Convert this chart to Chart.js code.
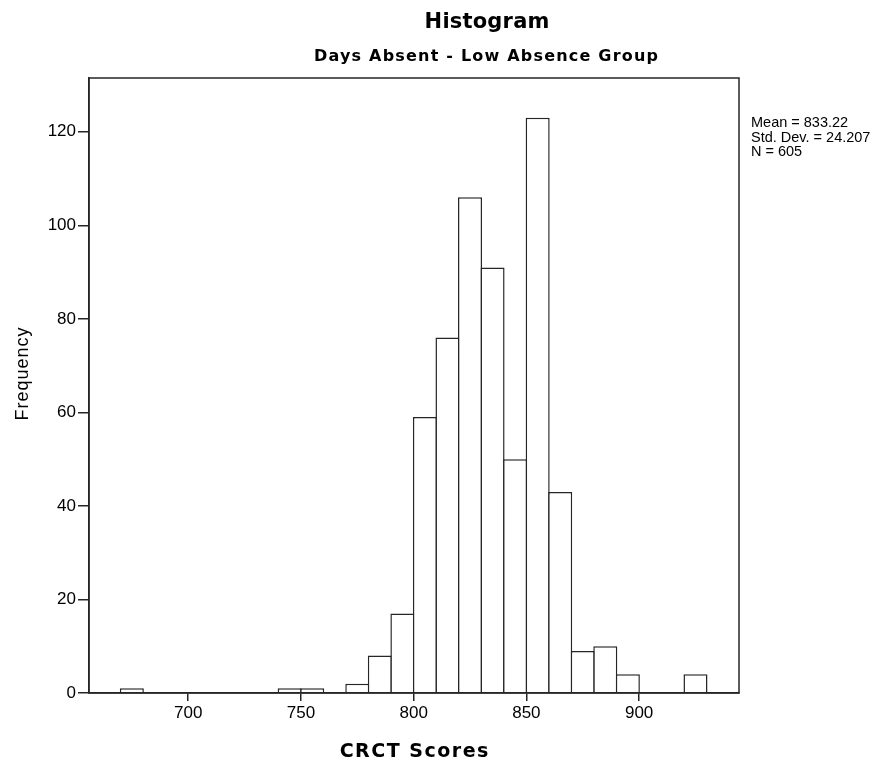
<!DOCTYPE html>
<html>
<head>
<meta charset="utf-8">
<script src="https://cdn.jsdelivr.net/npm/chart.js@4.4.1/dist/chart.umd.min.js"></script>
<style>
  html, body { margin: 0; padding: 0; background: #fff; }
  #wrap { width: 894px; height: 764px; position: relative; }
</style>
</head>
<body>
<div id="wrap"><canvas id="hist"></canvas></div>
<script>
// CRCT scores, 10-point bins (start of each bin) and how many students fall in it
const binStarts = [670, 740, 750, 770, 780, 790, 800, 810, 820, 830, 840, 850, 860, 870, 880, 890, 920];
const frequencies = [1, 1, 1, 2, 8, 17, 59, 76, 106, 91, 50, 123, 43, 9, 10, 4, 4];
const binWidth = 10;
const xTicks = [700, 750, 800, 850, 900];
const yTicks = [0, 20, 40, 60, 80, 100, 120];
const statLines = ["Mean = 833.22", "Std. Dev. = 24.207", "N = 605"];

const FONT = "'Liberation Sans', Arial, Helvetica, sans-serif";
const BOLD_FONT = "'DejaVu Sans', 'Liberation Sans', Arial, sans-serif";
const INK = "#262626";
const LINE = 1.5;

const points = binStarts.map((s, i) => ({ x: s + binWidth / 2, y: frequencies[i] }));

function spacedText(ctx, text, x, y, spacing) {
  ctx.letterSpacing = spacing + "px";
  ctx.fillText(text, x + spacing / 2, y);
  ctx.letterSpacing = "0px";
}

// frame, titles and the stats text to the right of the plot
const decorations = {
  id: "decorations",
  afterDraw(chart) {
    const { ctx, chartArea: a } = chart;
    ctx.save();
    ctx.strokeStyle = INK;
    ctx.lineWidth = LINE;
    ctx.strokeRect(a.left, a.top, a.right - a.left, a.bottom - a.top);

    ctx.fillStyle = "#000";
    ctx.textAlign = "center";
    ctx.textBaseline = "alphabetic";
    ctx.font = "bold 21px " + BOLD_FONT;
    spacedText(ctx, "Histogram", 487, 28, 0.2);
    ctx.font = "bold 16px " + BOLD_FONT;
    spacedText(ctx, "Days Absent - Low Absence Group", 486, 61, 1.2);

    ctx.font = "bold 19px " + BOLD_FONT;
    spacedText(ctx, "CRCT Scores", (a.left + a.right) / 2, 757, 1.5);

    ctx.save();
    ctx.translate(28, 374);
    ctx.rotate(-Math.PI / 2);
    ctx.font = "18px " + FONT;
    spacedText(ctx, "Frequency", 0, 0, 1);
    ctx.restore();

    ctx.textAlign = "left";
    ctx.font = "14.5px " + FONT;
    statLines.forEach((line, i) => ctx.fillText(line, 751, 127 + i * 14.5));
    ctx.restore();
  }
};

new Chart(document.getElementById("hist"), {
  type: "bar",
  data: {
    datasets: [{
      data: points,
      backgroundColor: "#ffffff",
      borderColor: INK,
      borderWidth: LINE,
      // a little wider than the bin so neighbouring bars share one edge line
      barPercentage: 1.066,
      categoryPercentage: 1,
      inflateAmount: 0,
      grouped: false
    }]
  },
  options: {
    responsive: true,
    maintainAspectRatio: false,
    animation: false,
    layout: { padding: { top: 78, right: 155, left: 0, bottom: 0 } },
    plugins: { legend: { display: false }, tooltip: { enabled: false } },
    scales: {
      x: {
        type: "linear",
        offset: false,
        min: 656,
        max: 944.3,
        afterBuildTicks: s => { s.ticks = xTicks.map(v => ({ value: v })); },
        afterFit: s => { s.height = 71; },
        ticks: { color: "#000", font: { family: FONT, size: 17 }, padding: 2, maxRotation: 0, autoSkip: false },
        grid: { offset: false, drawOnChartArea: false, drawTicks: true, tickLength: 8, color: INK, lineWidth: LINE },
        border: { display: true, color: INK, width: LINE }
      },
      y: {
        min: 0,
        max: 131.5,
        afterBuildTicks: s => { s.ticks = yTicks.map(v => ({ value: v })); },
        afterFit: s => { s.width = 89; },
        ticks: { color: "#000", font: { family: FONT, size: 17 }, padding: 2 },
        grid: { drawOnChartArea: false, drawTicks: true, tickLength: 11, color: INK, lineWidth: LINE },
        border: { display: true, color: INK, width: LINE }
      }
    }
  },
  plugins: [decorations]
});
</script>
</body>
</html>
